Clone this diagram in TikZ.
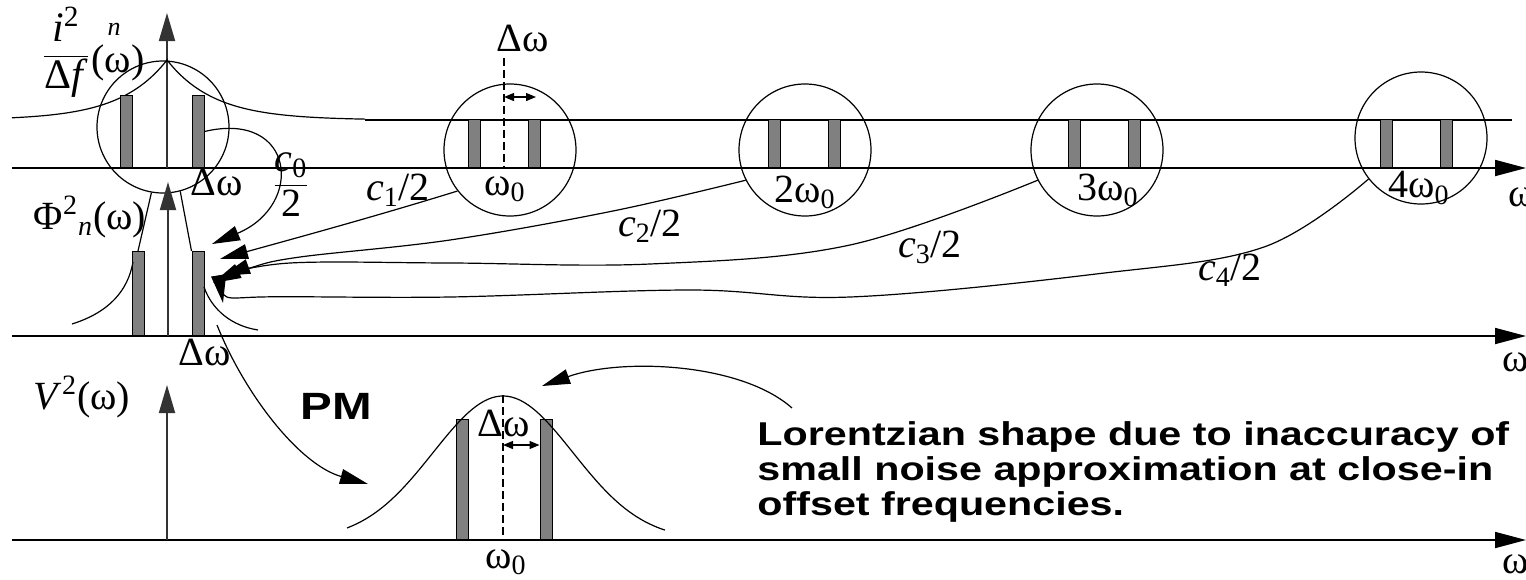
\documentclass[tikz,border=0pt]{standalone}
\usepackage{fontspec}
\setmainfont{Liberation Serif}
\newfontfamily\notefont{Liberation Sans}[FakeStretch=1.25]
\usetikzlibrary{arrows.meta}

\begin{document}
\begin{tikzpicture}[x=0.5pt, y=-0.5pt, >={Triangle[length=14pt,width=7.5pt]},
    axis/.style={line width=0.9pt, -{Triangle[length=15.5pt,width=8pt]}},
    yaxis/.style={line width=0.9pt, draw=black!80, -{Triangle[length=14pt,width=8pt]}},
    bar/.style={draw, line width=0.5pt, fill=black!50, minimum width=6pt, inner sep=0pt, anchor=south},
    ring/.style={circle, draw, line width=0.6pt, minimum size=66pt, inner sep=0pt},
    lbl/.style={font=\fontsize{20}{22}\selectfont, inner sep=0pt},
    note/.style={font=\notefont\bfseries\fontsize{16.5}{17.5}\selectfont, inner sep=0pt},
    curve/.style={line width=0.6pt},
    harm/.style={line width=0.6pt, ->},
    tick/.style={line width=0.6pt, dash pattern=on 4pt off 2pt},
    gap/.style={line width=0.6pt, {Triangle[length=5pt,width=4pt]}-{Triangle[length=5pt,width=4pt]}}]
  \useasboundingbox (0,0) rectangle (1526,579);

  % current noise spectrum with its side bands
  \draw[axis] (12,168) -- (1526,168);
  \draw[curve] (365,120) -- (1512,120);
  \node[lbl, anchor=west] (om1) at (1508,197) {ω};
  \draw[yaxis] (167,168) -- (167,13);
  \draw[curve] plot[domain=12:167, samples=60] (\x,{120-60*exp(-(167-\x)/47)})
    -- plot[domain=167:365, samples=60] (\x,{120-60*exp(-(\x-167)/47)});
  \node[bar, minimum height=36pt] (bl0) at (126,168) {};
  \node[bar, minimum height=36pt] (br0) at (198,168) {};
  \node[ring] (ring0) at (163,127) {};
  \foreach \k/\xc in {1/504, 2/804, 3/1104, 4/1416} {
    \node[bar, minimum height=24pt] (bl\k) at (\xc-30,168) {};
    \node[bar, minimum height=24pt] (br\k) at (\xc+30,168) {};
  }
  \foreach \k/\xc/\yc in {1/510/150, 2/805/150, 3/1097/150, 4/1421/138}
    \node[ring] (ring\k) at (\xc,\yc) {};
  \node[lbl, font=\fontsize{21}{23}\selectfont] (ifrac) at (66,55) {\begin{tabular}{@{}c@{}}\textit{i}\textsuperscript{2}\\\hline Δ\textit{f}\end{tabular}};
  \node[font=\fontsize{13}{15}\selectfont\itshape, inner sep=0pt] (isub) at (114,29) {n};
  \node[lbl] (iarg) at (118,63) {(ω)};
  \node[lbl] (dw0) at (217,182) {Δω};
  \node[lbl] (w1) at (505,189) {ω\textsubscript{0}};
  \node[lbl] (w2) at (805,192) {2ω\textsubscript{0}};
  \node[lbl] (w3) at (1108,190) {3ω\textsubscript{0}};
  \node[lbl] (w4) at (1419,188) {4ω\textsubscript{0}};
  \coordinate (dtop) at (504,58);
  \draw[tick] (dtop) -- (dtop |- bl1.south);
  \draw[gap] (dtop |- 0,97) -- (536,97);
  \node[lbl] (dw1) at (523,38) {Δω};

  % folded phase noise
  \draw[axis] (12,336) -- (1526,336);
  \node[lbl, anchor=west] (om2) at (1502,362) {ω};
  \draw[yaxis] (168,336) -- (168,182);
  \node[bar, minimum height=42pt] (pl) at (138,336) {};
  \node[bar, minimum height=42pt] (pr) at (198,336) {};
  \draw[curve] (ring0.260) -- (pl.north);
  \draw[curve] (ring0.285) -- (pr.north west);
  \draw[curve] (72,324) .. controls (110,312) and (128,290) .. (133,262);
  \draw[curve] (204,287) .. controls (212,310) and (232,326) .. (258,330);
  \node[lbl] (philbl) at (90,217) {Φ\textsuperscript{2}\textsubscript{\textit{n}}(ω)};
  \node[lbl] (dw2) at (205,352) {Δω};

  \coordinate (tip0) at (212,244);
  \coordinate (tip1) at (220,259);
  \coordinate (tip2) at (213,283);
  \coordinate (tip3) at (222,276);
  \coordinate (tip4) at (223,303);
  \draw[harm] (br0.east) .. controls (295,110) and (305,205) .. (tip0);
  \draw[harm] (ring1.218) .. controls (380,215) and (300,237) .. (tip1);
  \draw[harm] plot[smooth, tension=0.6] coordinates {(ring2.207) (613,211) (450,240) (300,257) (250,268) (tip2)};
  \draw[harm] plot[smooth, tension=0.6] coordinates {(ring3.207) (850,245) (650,264) (450,263) (290,263) (tip3)};
  \draw[harm] plot[smooth, tension=0.6] coordinates {(ring4.218) (1264,247) (1096,274) (850,297) (690,290) (450,297) (260,297) (tip4)};
  \node[lbl] (cc0) at (291,185) {\begin{tabular}{@{}c@{}}\textit{c}\textsubscript{0}\\\hline 2\end{tabular}};
  \node[lbl] (cc1) at (398,190) {\textit{c}\textsubscript{1}/2};
  \node[lbl] (cc2) at (650,226) {\textit{c}\textsubscript{2}/2};
  \node[lbl] (cc3) at (930,247) {\textit{c}\textsubscript{3}/2};
  \node[lbl] (cc4) at (1230,270) {\textit{c}\textsubscript{4}/2};

  % output voltage spectrum
  \draw[axis] (12,540) -- (1526,540);
  \node[lbl, anchor=west] (om3) at (1502,564) {ω};
  \draw[yaxis] (167,540) -- (167,385);
  \node[lbl] (vlbl) at (82,397) {\textit{V}\textsuperscript{2}(ω)};
  \node[bar, minimum height=60pt] (ql) at (462,540) {};
  \node[bar, minimum height=60pt] (qr) at (546,540) {};
  \draw[curve] plot[domain=347:665, samples=80] (\x,{540-144*exp(-((\x-503)/70)*((\x-503)/70)/2)});
  \coordinate (vtop) at (503,395);
  \draw[tick] (vtop) -- (vtop |- ql.south);
  \draw[gap] (vtop |- 0,445) -- (qr.west |- 0,445);
  \node[lbl] (dw3) at (504,423) {Δω};
  \node[lbl] (w0) at (506,562) {ω\textsubscript{0}};

  \node[note, font=\notefont\bfseries\fontsize{19}{20}\selectfont] (pm) at (336,406) {PM};
  \coordinate (pmfrom) at (217,325);
  \coordinate (pmto) at (368,484);
  \draw[harm] (pmfrom) .. controls (245,395) and (300,465) .. (pmto);
  \node[note, anchor=north west, align=left] (lor) at (757,421)
    {Lorentzian shape due to inaccuracy of\\small noise approximation at close-in\\offset frequencies.};
  \coordinate (lorfrom) at (792,408);
  \coordinate (lortip) at (542,386);
  \draw[harm] (lorfrom) .. controls (740,362) and (620,358) .. (lortip);
\end{tikzpicture}
\end{document}
